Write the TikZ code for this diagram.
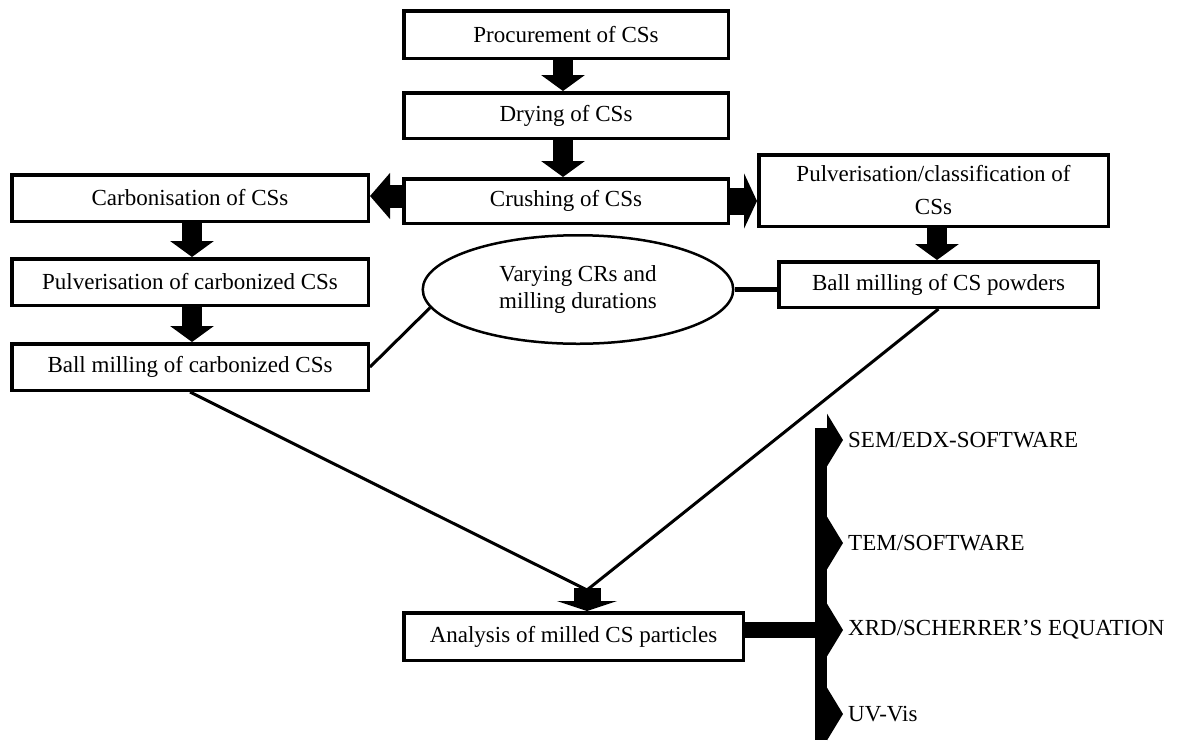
\documentclass[tikz,border=0pt]{standalone}
\usepackage{fontspec}
\setmainfont{Liberation Serif}
\usetikzlibrary{arrows.meta,shapes.geometric}
\begin{document}
\begin{tikzpicture}[x=1pt,y=-1pt,
  box/.style={draw, line width=3.5pt, inner sep=0pt, align=center,
    font=\fontsize{23}{27}\selectfont},
  lbl/.style={anchor=west, inner sep=5pt, font=\fontsize{23}{27}\selectfont},
  varrow/.style={line width=20pt, -{Triangle[width=43pt,length=16pt]}},
  thin/.style={line width=3pt},
]
\useasboundingbox (0,0) rectangle (1183,740);

\node[box, minimum width=324.5pt, minimum height=47.5pt] (proc) at (566,34.5) {Procurement of CSs};
\node[box, minimum width=324.5pt, minimum height=45.5pt] (dry) at (566,115.5) {Drying of CSs};
\node[box, minimum width=324.5pt, minimum height=44.5pt] (crush) at (566,201) {Crushing of CSs};
\node[box, minimum width=356.5pt, minimum height=46.5pt] (carb) at (190,198) {Carbonisation of CSs};
\node[box, minimum width=356.5pt, minimum height=46.5pt] (pulc) at (190,282) {Pulverisation of carbonized CSs};
\node[box, minimum width=356.5pt, minimum height=46.5pt] (bmc) at (190,367) {Ball milling of carbonized CSs};
\node[box, minimum width=349.5pt, minimum height=71.5pt, font=\fontsize{23}{33}\selectfont] (pcls) at (933.5,190.5) {Pulverisation/classification of\\CSs};
\node[box, minimum width=319.5pt, minimum height=45.5pt] (bmp) at (938.5,284.5) {Ball milling of CS powders};
\node[box, minimum width=339.5pt, minimum height=47.5pt] (ana) at (573.5,636.5) {Analysis of milled CS particles};
\node[draw, ellipse, line width=2.5pt, inner sep=0pt, minimum width=310.5pt, minimum height=108.5pt,
  align=center, font=\fontsize{23}{27}\selectfont] (ell) at (578,289.5) {Varying CRs and\\milling durations};

% block arrows
\draw[varrow] ([xshift=-3pt]proc.south) -- ([xshift=-3pt]dry.north);
\draw[varrow] ([xshift=-3pt]dry.south) -- ([xshift=-3pt]crush.north);
\draw[varrow] ([xshift=2pt]carb.south) -- ([xshift=2pt]pulc.north);
\draw[varrow] ([xshift=2pt]pulc.south) -- ([xshift=2pt]bmc.north);
\draw[varrow] ([xshift=3.5pt]pcls.south) -- ([xshift=3.5pt]pcls.south |- bmp.north);
\draw[line width=23pt, -{Triangle[width=45pt,length=20pt]}] ([yshift=5pt]crush.west) -- ([yshift=5pt]crush.west -| carb.east);
\draw[line width=27pt, -{Triangle[width=55pt,length=13pt]}] (crush.east) -- (crush.east -| pcls.west);

% ellipse links
\draw[line width=5pt] (ell.east) -- (ell.east -| bmp.west);
\draw[thin] (ell.187) -- (bmc.east);

% converging lines
\coordinate (conv) at (587,590);
\draw[thin] (bmc.south) -- (conv);
\draw[thin] (bmp.south) -- (conv);
\draw[line width=27pt, -{Triangle[width=60pt,length=10pt]}] ([yshift=2pt]conv) -- (conv |- ana.north);

% analysis outputs
\coordinate (btop) at (821,428);
\coordinate (bbot) at (821,740);
\coordinate (b1) at (821,440);
\coordinate (b2) at (821,543);
\coordinate (b3) at (821,630);
\coordinate (b4) at (821,714);
\draw[line width=12pt] (btop) -- (bbot);
\draw[line width=16pt] (ana.east |- b3) -- (b3);
\node[lbl] (sem) at (843,440) {SEM/EDX-SOFTWARE};
\node[lbl] (tem) at (843,543) {TEM/SOFTWARE};
\node[lbl] (xrd) at (843,630) {XRD/SCHERRER’S EQUATION};
\node[lbl] (uv) at (843,714) {UV-Vis};
\foreach \b/\t in {b1/sem,b2/tem,b3/xrd,b4/uv}
  \draw[line width=12pt, -{Triangle[width=52pt,length=16pt]}] (\b) -- (\t.west);
\end{tikzpicture}
\end{document}
